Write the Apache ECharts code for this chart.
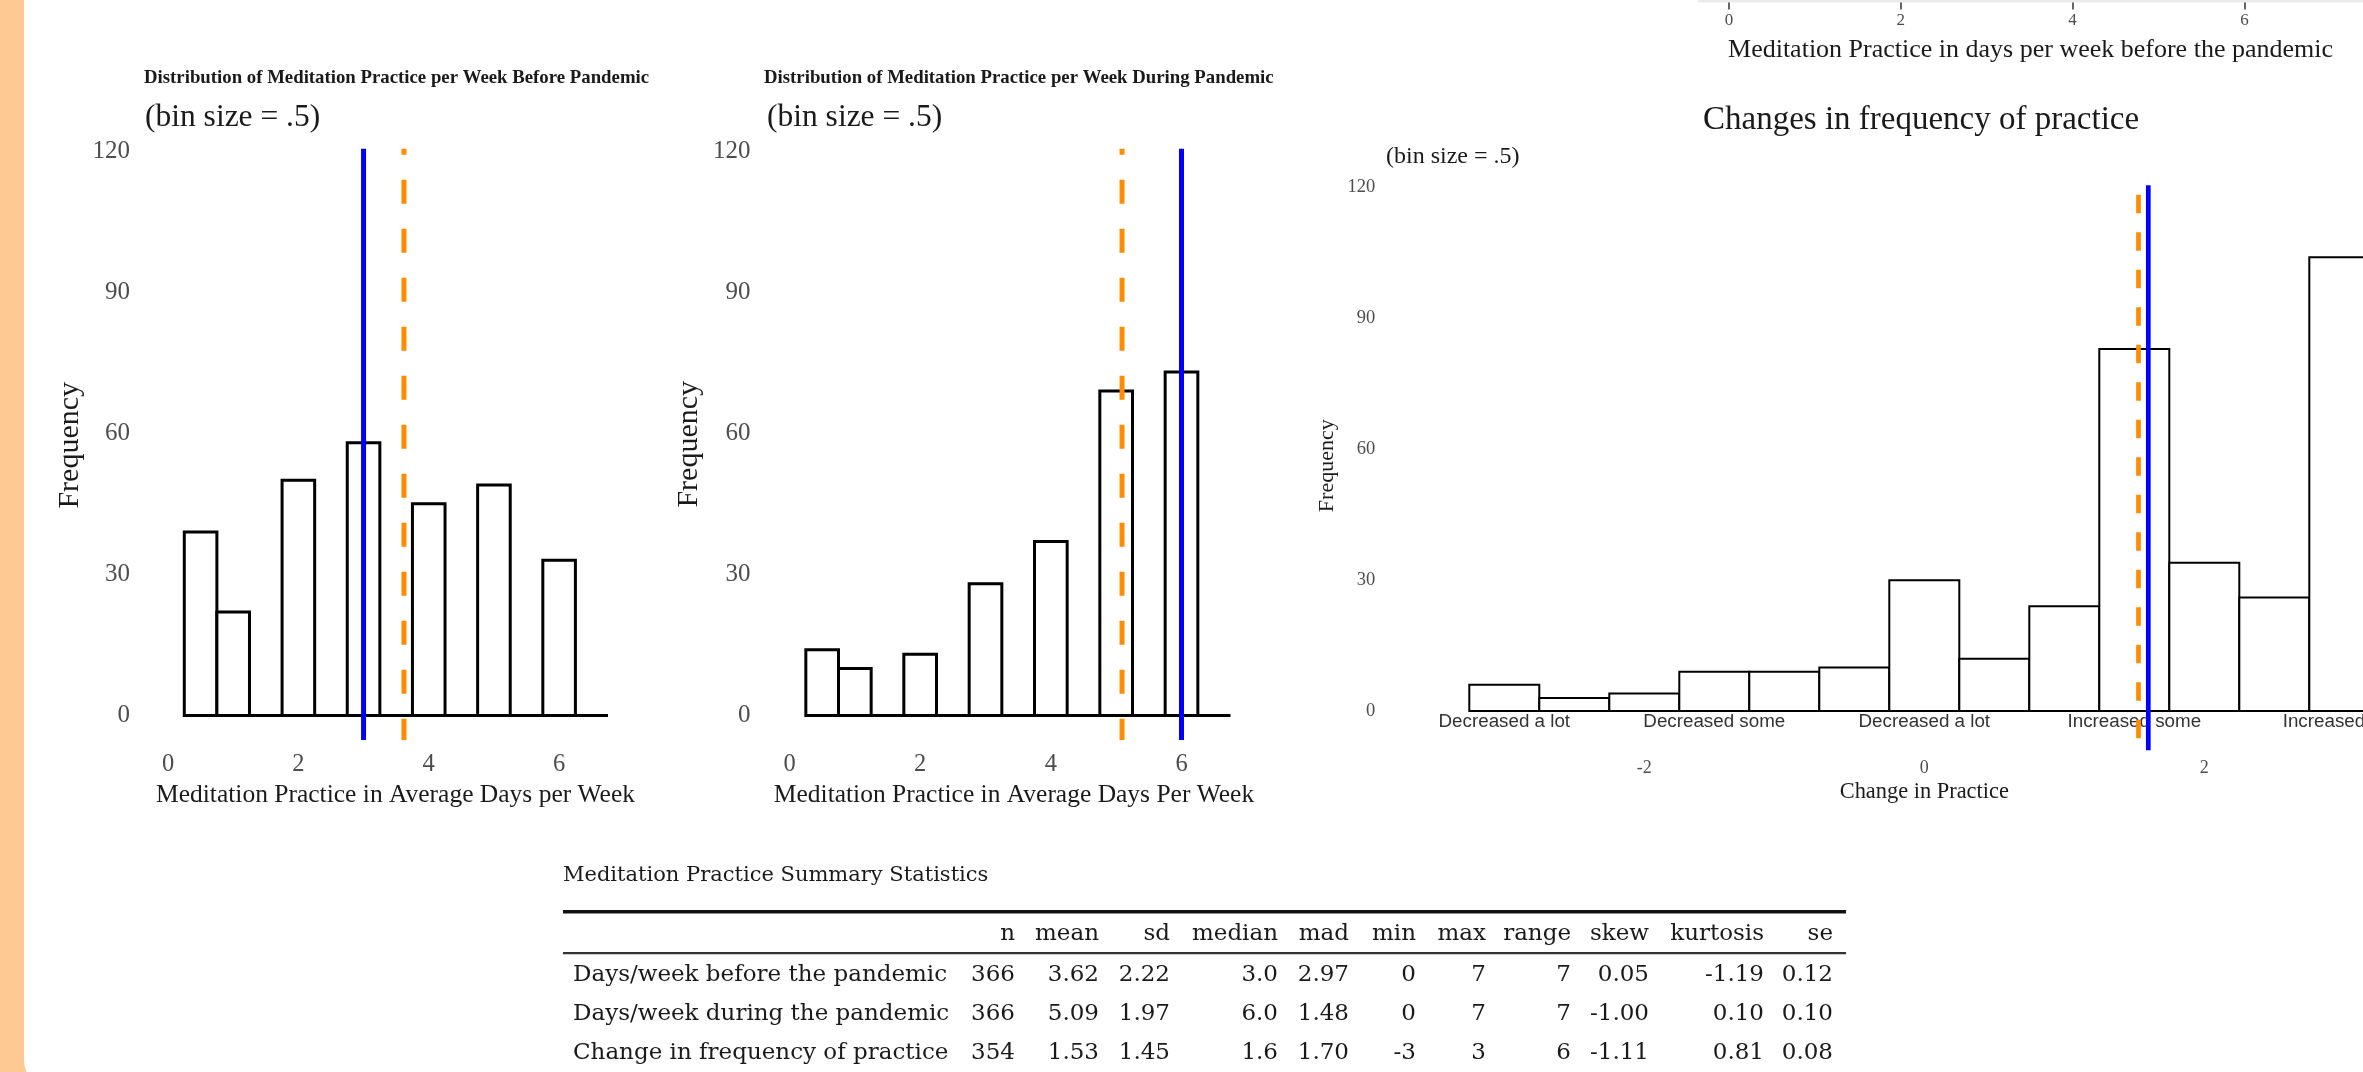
<!DOCTYPE html>
<html>
<head>
<meta charset="utf-8">
<title>Meditation practice per week</title>
<script src="https://cdn.jsdelivr.net/npm/echarts@6/dist/echarts.min.js"></script>
<style>
  html, body { margin: 0; padding: 0; }
  #main { width: 2363px; height: 1072px; }
</style>
</head>
<body>
<div id="main"></div>
<script>
// histogram bins (bin size = .5), bin centers and counts
var binSize = 0.5;
var beforeBins = [0.5, 1, 1.5, 2, 2.5, 3, 3.5, 4, 4.5, 5, 5.5, 6, 6.5];
var beforeCounts = [39, 22, 0, 50, 0, 58, 0, 45, 0, 49, 0, 33, 0];
var duringBins = [0.5, 1, 1.5, 2, 2.5, 3, 3.5, 4, 4.5, 5, 5.5, 6, 6.5];
var duringCounts = [14, 10, 0, 13, 0, 28, 0, 37, 0, 69, 0, 73, 0];
var changeBins = [-3, -2.5, -2, -1.5, -1, -0.5, 0, 0.5, 1, 1.5, 2, 2.5, 3];
var changeCounts = [6, 3, 4, 9, 9, 10, 30, 12, 24, 83, 34, 26, 104];

// tick labels
var dayTicks = [0, 2, 4, 6];
var changeTicks = [-2, 0, 2];
var changeCatPos = [-3, -1.5, 0, 1.5, 3];
var changeCatLabels = ['Decreased a lot', 'Decreased some', 'Decreased a lot', 'Increased some', 'Increased a lot'];

// summary statistics table
var statCols = ['n', 'mean', 'sd', 'median', 'mad', 'min', 'max', 'range', 'skew', 'kurtosis', 'se'];
var statDigits = [0, 2, 2, 1, 2, 0, 0, 0, 2, 2, 2];
var statRowNames = ['Days/week before the pandemic', 'Days/week during the pandemic', 'Change in frequency of practice'];
var statBefore = [366, 3.62, 2.22, 3.0, 2.97, 0, 7, 7, 0.05, -1.19, 0.12];
var statDuring = [366, 5.09, 1.97, 6.0, 1.48, 0, 7, 7, -1.00, 0.10, 0.10];
var statChange = [354, 1.53, 1.45, 1.6, 1.70, -3, 3, 6, -1.11, 0.81, 0.08];
var statRows = [statBefore, statDuring, statChange];

var SERIF = 'Liberation Serif';
var SANS = 'Liberation Sans';
var TABLE_FONT = 'DejaVu Serif';
var BLUE = '#0000ff';
var ORANGE = '#ff8c00';

function binData(centers, counts) {
    return centers.map(function (c, i) {
        return [c - binSize / 2, c + binSize / 2, counts[i]];
    });
}

function makeRender(lw) {
    return function (params, api) {
        var lo = api.coord([api.value(0), 0]);
        var hi = api.coord([api.value(1), api.value(2)]);
        return {
            type: 'rect',
            shape: { x: lo[0], y: hi[1], width: hi[0] - lo[0], height: lo[1] - hi[1] },
            style: { fill: '#fff', stroke: '#000', lineWidth: lw }
        };
    };
}

function histSeries(idx, centers, counts, lw) {
    return {
        type: 'custom',
        xAxisIndex: idx, yAxisIndex: idx,
        renderItem: makeRender(lw),
        encode: { x: [0, 1], y: 2 },
        data: binData(centers, counts),
        silent: true, z: 2
    };
}

function vline(xIdx, yIdx, x, top, bottom, color, width, dash, offset) {
    return {
        type: 'line',
        xAxisIndex: xIdx, yAxisIndex: yIdx,
        data: [[x, top], [x, bottom]],
        symbol: 'none', clip: false, silent: true, z: 4,
        lineStyle: { color: color, width: width, type: dash || 'solid', dashOffset: offset || 0 }
    };
}

function yAxisFor(grid, fontSize, margin, nameSize, nameGap, pad) {
    return {
        type: 'value', gridIndex: grid, min: 0, max: 120, interval: 30,
        axisLine: { show: false }, axisTick: { show: false }, splitLine: { show: false },
        axisLabel: { color: '#4d4d4d', fontFamily: SERIF, fontSize: fontSize, margin: margin },
        name: 'Frequency', nameLocation: 'middle', nameGap: nameGap,
        nameTextStyle: { color: '#1a1a1a', fontFamily: SERIF, fontSize: nameSize, padding: pad }
    };
}

function dayAxis(grid, name, pad) {
    return {
        type: 'value', gridIndex: grid, min: 0, max: 6.75,
        axisLine: { show: false }, axisTick: { show: false }, splitLine: { show: false },
        axisLabel: { customValues: dayTicks, color: '#4d4d4d', fontFamily: SERIF, fontSize: 24.5, margin: 37 },
        name: name, nameLocation: 'middle', nameGap: 67,
        nameTextStyle: { color: '#1a1a1a', fontFamily: SERIF, fontSize: 25.5, padding: pad }
    };
}

// table as text elements
var colRight = [1015, 1099, 1170, 1278, 1349, 1416, 1486, 1571, 1649, 1764, 1833];
var rowY = [975, 1014, 1053];
var tableEls = [
    { type: 'text', x: 563, y: 876, style: { text: 'Meditation Practice Summary Statistics', fontFamily: TABLE_FONT, fontSize: 21, fill: '#1a1a1a', align: 'left', verticalAlign: 'middle' } },
    { type: 'rect', shape: { x: 563, y: 910, width: 1283, height: 3.5 }, style: { fill: '#111' } },
    { type: 'rect', shape: { x: 563, y: 952, width: 1283, height: 2.2 }, style: { fill: '#333' } }
];
statCols.forEach(function (c, j) {
    tableEls.push({ type: 'text', x: colRight[j], y: 934, style: { text: c, fontFamily: TABLE_FONT, fontSize: 23, fill: '#1a1a1a', align: 'right', verticalAlign: 'middle' } });
});
statRows.forEach(function (row, i) {
    tableEls.push({ type: 'text', x: 573, y: rowY[i], style: { text: statRowNames[i], fontFamily: TABLE_FONT, fontSize: 23, fill: '#1a1a1a', align: 'left', verticalAlign: 'middle' } });
    row.forEach(function (v, j) {
        tableEls.push({ type: 'text', x: colRight[j], y: rowY[i], style: { text: v.toFixed(statDigits[j]), fontFamily: TABLE_FONT, fontSize: 23, fill: '#1a1a1a', align: 'right', verticalAlign: 'middle' } });
    });
});

var chart = echarts.init(document.getElementById('main'));

chart.setOption({
    backgroundColor: '#ffc993',
    animation: false,
    graphic: [
        { type: 'rect', z: -100, shape: { x: 24, y: -50, width: 2400, height: 1140, r: 30 }, style: { fill: '#fff' } }
    ].concat(tableEls),
    title: [
        { text: 'Distribution of Meditation Practice per Week Before Pandemic', left: 144, top: 69, padding: 0,
          textStyle: { fontFamily: SERIF, fontSize: 18.8, fontWeight: 'bold', color: '#1a1a1a' } },
        { text: '(bin size = .5)', left: 145, top: 102, padding: 0,
          textStyle: { fontFamily: SERIF, fontSize: 31.5, fontWeight: 'normal', color: '#1a1a1a' } },
        { text: 'Distribution of Meditation Practice per Week During Pandemic', left: 764, top: 69, padding: 0,
          textStyle: { fontFamily: SERIF, fontSize: 18.8, fontWeight: 'bold', color: '#1a1a1a' } },
        { text: '(bin size = .5)', left: 767, top: 102, padding: 0,
          textStyle: { fontFamily: SERIF, fontSize: 31.5, fontWeight: 'normal', color: '#1a1a1a' } },
        { text: 'Changes in frequency of practice', left: 1703, top: 104, padding: 0,
          textStyle: { fontFamily: SERIF, fontSize: 33, fontWeight: 'normal', color: '#1a1a1a' } },
        { text: '(bin size = .5)', left: 1386, top: 145, padding: 0,
          textStyle: { fontFamily: SERIF, fontSize: 24, fontWeight: 'normal', color: '#1a1a1a' } }
    ],
    grid: [
        { left: 168, top: 151, width: 440, height: 564.5, outerBoundsMode: 'none' },
        { left: 789.5, top: 151, width: 441, height: 564.5, outerBoundsMode: 'none' },
        { left: 1469.3, top: 187.5, width: 910, height: 523.5, outerBoundsMode: 'none' },
        { left: 1698, top: 0, width: 665, height: 2.5, show: true, backgroundColor: '#ebebeb', borderWidth: 0, outerBoundsMode: 'none' }
    ],
    xAxis: [
        dayAxis(0, 'Meditation Practice in Average Days per Week', [0, 0, 0, 15]),
        dayAxis(1, 'Meditation Practice in Average Days Per Week', [0, 0, 0, 8]),
        {
            type: 'value', gridIndex: 2, min: -3.25, max: 3.25, position: 'bottom',
            axisLine: { show: false }, axisTick: { show: false }, splitLine: { show: false },
            axisLabel: { customValues: changeTicks, color: '#4d4d4d', fontFamily: SERIF, fontSize: 18, margin: 48 },
            name: 'Change in Practice', nameLocation: 'middle', nameGap: 70,
            nameTextStyle: { color: '#1a1a1a', fontFamily: SERIF, fontSize: 22.4 }
        },
        {
            type: 'value', gridIndex: 2, min: -3.25, max: 3.25, position: 'bottom',
            axisLine: { show: false }, axisTick: { show: false }, splitLine: { show: false },
            axisLabel: {
                customValues: changeCatPos, color: '#333', fontFamily: SANS, fontSize: 18.8, margin: 1,
                formatter: function (v) {
                    for (var i = 0; i < changeCatPos.length; i++) {
                        if (Math.abs(changeCatPos[i] - v) < 1e-6) return changeCatLabels[i];
                    }
                    return '';
                }
            }
        },
        {
            type: 'value', gridIndex: 3, min: -0.36, max: 7.38,
            axisLine: { show: false }, splitLine: { show: false },
            axisTick: { customValues: dayTicks, length: 7, lineStyle: { color: '#333', width: 1.5 } },
            axisLabel: { customValues: dayTicks, color: '#4d4d4d', fontFamily: SERIF, fontSize: 17, margin: 10 },
            name: 'Meditation Practice in days per week before the pandemic', nameLocation: 'middle', nameGap: 35,
            nameTextStyle: { color: '#1a1a1a', fontFamily: SERIF, fontSize: 26 }
        }
    ],
    yAxis: [
        yAxisFor(0, 25, 38, 30, 83, [0, 24, 0, 0]),
        yAxisFor(1, 25, 39, 30, 85, [0, 22, 0, 0]),
        yAxisFor(2, 18.5, 94, 22, 131, [0, 33, 0, 0]),
        { type: 'value', gridIndex: 3, show: false, min: 0, max: 1 }
    ],
    series: [
        histSeries(0, beforeBins, beforeCounts, 3),
        histSeries(1, duringBins, duringCounts, 3),
        histSeries(2, changeBins, changeCounts, 2),
        vline(0, 0, statBefore[3], 120.5, -5.2, BLUE, 5),
        vline(0, 0, statBefore[1], 120.5, -5.2, ORANGE, 5, [24, 25], 18),
        vline(1, 1, statDuring[3], 120.5, -5.2, BLUE, 5),
        vline(1, 1, statDuring[1], 120.5, -5.2, ORANGE, 5, [24, 25], 18),
        vline(2, 2, statChange[3], 120.5, -9, BLUE, 4.7),
        vline(2, 2, statChange[1], 120.5, -9, ORANGE, 4.7, [18.5, 19], 28)
    ]
});
</script>
</body>
</html>
